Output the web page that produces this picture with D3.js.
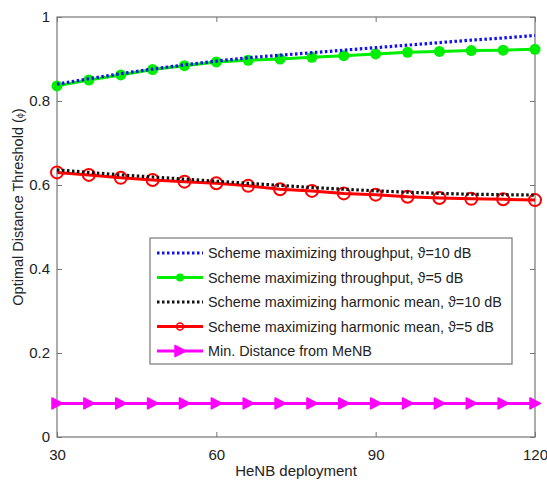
<!DOCTYPE html>
<html>
<head>
<meta charset="utf-8">
<script src="https://cdn.jsdelivr.net/npm/d3@7"></script>
<style>
  body { margin: 0; background: #fff; }
  text { font-family: "Liberation Sans", Arial, sans-serif; fill: #222; }
</style>
</head>
<body>
<svg width="547" height="483"></svg>
<script>
const deployment = [30, 36, 42, 48, 54, 60, 66, 72, 78, 84, 90, 96, 102, 108, 114, 120],
      thrTen = [0.840, 0.853, 0.865, 0.876, 0.886, 0.895, 0.903, 0.909, 0.915, 0.921, 0.927, 0.933, 0.939, 0.945, 0.950, 0.956],
      thrFive = [0.836, 0.850, 0.862, 0.875, 0.884, 0.893, 0.897, 0.900, 0.904, 0.908, 0.912, 0.916, 0.918, 0.920, 0.921, 0.923],
      harTen = [0.636, 0.630, 0.624, 0.619, 0.614, 0.609, 0.604, 0.599, 0.594, 0.590, 0.586, 0.583, 0.580, 0.578, 0.577, 0.576],
      harFive = [0.630, 0.624, 0.617, 0.612, 0.608, 0.604, 0.598, 0.590, 0.586, 0.580, 0.577, 0.572, 0.569, 0.567, 0.566, 0.564],
      minDist = [0.08, 0.08, 0.08, 0.08, 0.08, 0.08, 0.08, 0.08, 0.08, 0.08, 0.08, 0.08, 0.08, 0.08, 0.08, 0.08],
      xTicks = [30, 60, 90, 120],
      yTicks = [0, 0.2, 0.4, 0.6, 0.8, 1],
      seriesNames = ['Scheme maximizing throughput, \u03D1=10 dB',
                     'Scheme maximizing throughput, \u03D1=5 dB',
                     'Scheme maximizing harmonic mean, \u03D1=10 dB',
                     'Scheme maximizing harmonic mean, \u03D1=5 dB',
                     'Min. Distance from MeNB'];

const padL = 57, padR = 535, padT = 17, padB = 437,
      xScale = d3.scaleLinear().domain([30, 120]).range([padL, padR]),
      yScale = d3.scaleLinear().domain([0, 1]).range([padB, padT]),
      svg = d3.select('svg'),
      axisColor = '#777';

// series styling
const series = [
  {values: thrTen, color: '#1010f0', dash: '2.5,2.5', marker: null},
  {values: thrFive, color: '#00ee00', dash: null, marker: 'dot'},
  {values: harTen, color: '#111', dash: '2.5,2.5', marker: null},
  {values: harFive, color: '#ff0000', dash: null, marker: 'ring'},
  {values: minDist, color: '#ff00ff', dash: null, marker: 'tri'}
];
series.forEach((s, i) => s.name = seriesNames[i]);

// frame box
svg.append('rect')
    .attr('x', padL).attr('y', padT)
    .attr('width', padR - padL).attr('height', padB - padT)
    .attr('fill', 'none').attr('stroke', axisColor).attr('stroke-width', 1.2);

// axes with inward ticks
const xAxis = d3.axisBottom(xScale).tickValues(xTicks).tickSize(-5).tickSizeOuter(0).tickPadding(9),
      yAxis = d3.axisLeft(yScale).tickValues(yTicks).tickSize(-5).tickSizeOuter(0)
                .tickPadding(7).tickFormat(d3.format('~g'));

const gx = svg.append('g').attr('transform', `translate(0, ${padB})`).call(xAxis);
const gy = svg.append('g').attr('transform', `translate(${padL}, 0)`).call(yAxis);
svg.append('g').attr('transform', `translate(0, ${padT})`)
   .call(d3.axisTop(xScale).tickValues(xTicks).tickSize(-5).tickSizeOuter(0).tickFormat(''));
svg.append('g').attr('transform', `translate(${padR}, 0)`)
   .call(d3.axisRight(yScale).tickValues(yTicks).tickSize(-5).tickSizeOuter(0).tickFormat(''));

svg.selectAll('.domain').remove();
svg.selectAll('.tick line').attr('stroke', axisColor);
svg.selectAll('.tick text').style('font-size', '15px')
   .style('font-family', '"Liberation Sans", Arial, sans-serif').attr('fill', '#222');
gx.selectAll('.tick text').attr('dy', '0.9em');

// lines
const line = (vals) => d3.line()
    .x((d, i) => xScale(deployment[i]))
    .y((d) => yScale(d))(vals);

function drawMarker(g, type, color, x, y) {
  if (type === 'dot') {
    g.append('circle').attr('cx', x).attr('cy', y).attr('r', 5.5).attr('fill', color);
  } else if (type === 'ring') {
    g.append('circle').attr('cx', x).attr('cy', y).attr('r', 6)
     .attr('fill', 'none').attr('stroke', color).attr('stroke-width', 2);
  } else if (type === 'tri') {
    g.append('path')
     .attr('d', `M${x - 5},${y - 5.5}L${x + 5.5},${y}L${x - 5},${y + 5.5}Z`)
     .attr('fill', color).attr('stroke', color).attr('stroke-width', 1.5)
     .attr('stroke-linejoin', 'round');
  }
}

// drawing order
[4, 1, 0, 3, 2].forEach((k) => {
  const s = series[k];
  const g = svg.append('g');
  g.append('path')
    .attr('d', line(s.values))
    .attr('fill', 'none')
    .attr('stroke', s.color)
    .attr('stroke-width', s.dash ? 3.2 : 3)
    .attr('stroke-dasharray', s.dash);
  if (s.marker) {
    s.values.forEach((v, i) => drawMarker(g, s.marker, s.color, xScale(deployment[i]), yScale(v)));
  }
});

// legend
const lg = svg.append('g');
lg.append('rect')
    .attr('x', 150).attr('y', 238)
    .attr('width', 362).attr('height', 126)
    .attr('fill', '#fff').attr('stroke', axisColor).attr('stroke-width', 1.2);

series.forEach((s, i) => {
  const y = 253 + i * 24.5,
        row = lg.append('g');
  row.append('line')
      .attr('x1', 157).attr('x2', 203)
      .attr('y1', y).attr('y2', y)
      .attr('stroke', s.color)
      .attr('stroke-width', 3)
      .attr('stroke-dasharray', s.dash);
  if (s.marker === 'dot') {
    row.append('circle').attr('cx', 180).attr('cy', y).attr('r', 4).attr('fill', s.color);
  } else if (s.marker === 'ring') {
    row.append('circle').attr('cx', 180).attr('cy', y).attr('r', 3.5)
       .attr('fill', 'none').attr('stroke', s.color).attr('stroke-width', 1.5);
  } else if (s.marker === 'tri') {
    drawMarker(row, 'tri', s.color, 180, y);
  }
  row.append('text')
      .attr('x', 208).attr('y', y)
      .attr('dy', '0.35em')
      .style('font-size', '14.4px')
      .text(s.name);
});

// axis titles
svg.append('text')
    .text('HeNB deployment')
    .attr('x', (padL + padR) / 2)
    .attr('y', 476)
    .style('font-size', '15px')
    .style('text-anchor', 'middle');

const yt = svg.append('text')
    .attr('transform', `translate(23, 207) rotate(-90)`)
    .style('font-size', '14.5px')
    .style('text-anchor', 'middle');
yt.append('tspan').text('Optimal Distance Threshold (');
yt.append('tspan').text('\u03D5').style('font-size', '9px');
yt.append('tspan').text(')');
</script>
</body>
</html>
